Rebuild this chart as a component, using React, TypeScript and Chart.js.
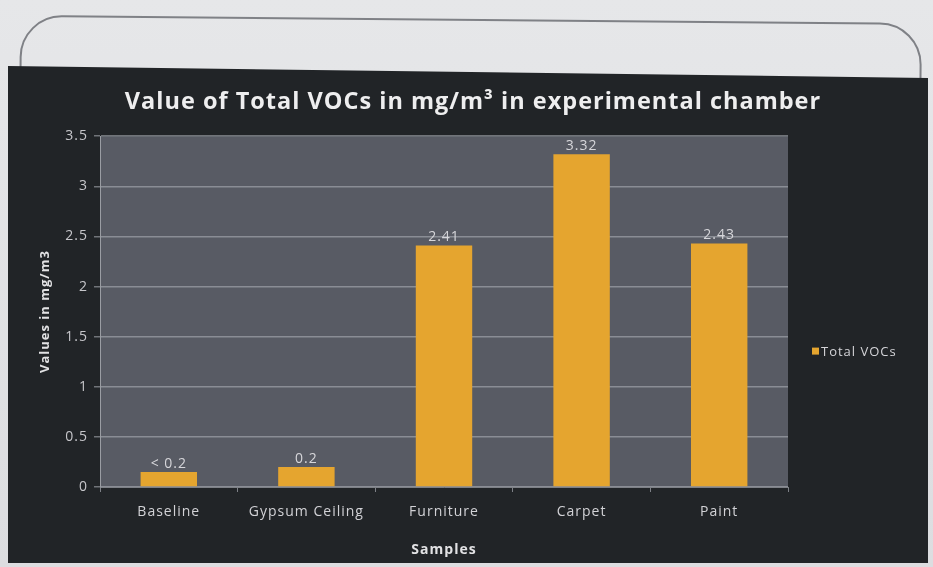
import React, { useEffect, useRef } from "react";
import { Chart, registerables } from "chart.js";

Chart.register(...registerables);

const categories = ["Baseline", "Gypsum Ceiling", "Furniture", "Carpet", "Paint"];
const totalVOCs = [0.15, 0.2, 2.41, 3.32, 2.43];
const valueLabels = ["< 0.2", "0.2", "2.41", "3.32", "2.43"];
const yTicks = [0, 0.5, 1, 1.5, 2, 2.5, 3, 3.5];
const seriesName = "Total VOCs";
const titleText = "Value of Total VOCs in mg/m\u00B3 in experimental chamber";
const yTitle = "Values in mg/m3";
const xTitle = "Samples";

const FONT = "'Open Sans', 'Noto Sans', sans-serif";
const BAR = "#e5a52f";
const SPACING = "1px";

export default function App() {
  const ref = useRef<HTMLCanvasElement | null>(null);

  useEffect(() => {
    const canvas = ref.current;
    if (!canvas) return;

    const spacingPlugin = {
      id: "spacing",
      beforeLayout(chart: any) {
        chart.ctx.letterSpacing = SPACING;
      },
      beforeDraw(chart: any) {
        chart.ctx.letterSpacing = SPACING;
      },
    };

    const plotBg = {
      id: "plotBg",
      beforeDraw(chart: any) {
        const { ctx, chartArea: a } = chart;
        ctx.save();
        ctx.fillStyle = "#585b64";
        ctx.fillRect(a.left, a.top, a.right - a.left, a.bottom - a.top);
        ctx.restore();
      },
    };

    const labelsPlugin = {
      id: "valueLabels",
      afterDatasetsDraw(chart: any) {
        const { ctx } = chart;
        const meta = chart.getDatasetMeta(0);
        ctx.save();
        ctx.font = `14px ${FONT}`;
        ctx.fillStyle = "#d6d6da";
        ctx.textAlign = "center";
        ctx.textBaseline = "bottom";
        meta.data.forEach((bar: any, i: number) => {
          ctx.fillText(valueLabels[i], bar.x, bar.y - 1);
        });
        ctx.restore();
      },
    };

    const legendPlugin = {
      id: "customLegend",
      afterDraw(chart: any) {
        const { ctx, chartArea: a } = chart;
        const x = a.right + 24;
        const y = (a.top + a.bottom) / 2 + 41;
        ctx.save();
        ctx.fillStyle = chart.data.datasets[0].backgroundColor;
        ctx.fillRect(x, y - 5, 7, 7);
        ctx.font = `13px ${FONT}`;
        ctx.fillStyle = "#d4d4d8";
        ctx.textBaseline = "middle";
        ctx.textAlign = "left";
        ctx.fillText(chart.data.datasets[0].label, x + 9, y);
        ctx.restore();
      },
    };

    const chart = new Chart(canvas, {
      type: "bar",
      data: {
        labels: categories,
        datasets: [
          {
            label: seriesName,
            data: totalVOCs,
            backgroundColor: BAR,
            borderWidth: 0,
            barPercentage: 0.41,
            categoryPercentage: 1,
            yAxisID: "y",
          },
        ],
      },
      options: {
        responsive: false,
        animation: false,
        layout: { padding: { left: 10, right: 0, top: 0, bottom: 0 } },
        plugins: {
          legend: { display: false },
          tooltip: { enabled: false },
          title: {
            display: true,
            text: titleText,
            color: "#eeeeef",
            font: { family: FONT, size: 23.5, weight: "bold" },
            padding: { top: 20, bottom: 20 },
          },
        },
        scales: {
          x: {
            grid: {
              display: true,
              drawOnChartArea: false,
              color: "#7d8086",
              tickLength: 5,
              offset: true,
            },
            border: { display: true, color: "#7d8086", width: 1 },
            ticks: {
              color: "#d2d2d6",
              font: { family: FONT, size: 14 },
              padding: 12,
            },
            title: {
              display: true,
              text: xTitle,
              color: "#e2e2e4",
              font: { family: FONT, size: 14, weight: "bold" },
              padding: { top: 0, bottom: 5 },
            },
            afterFit(scale: any) {
              scale.height = 76;
            },
          },
          y: {
            position: "left",
            min: 0,
            max: 3.5,
            afterBuildTicks(scale: any) {
              scale.ticks = yTicks.map((v) => ({ value: v }));
            },
            ticks: {
              color: "#c6c6ca",
              font: { family: FONT, size: 14 },
              padding: 6,
              callback: (v: any) => String(v),
            },
            grid: {
              color: "rgba(180,182,190,0.55)",
              lineWidth: 1.5,
              tickLength: 6,
            },
            border: { display: true, color: "#9a9da3", width: 1 },
            title: {
              display: true,
              text: yTitle,
              color: "#e2e2e4",
              font: { family: FONT, size: 13, weight: "bold" },
              padding: { top: 19, bottom: 0 },
            },
            afterFit(scale: any) {
              scale.width = 82;
            },
          },
          legendSpace: {
            type: "linear",
            position: "right",
            display: true,
            grid: { display: false },
            border: { display: false },
            ticks: { display: false },
            afterFit(scale: any) {
              scale.width = 140;
            },
          },
        },
      },
      plugins: [spacingPlugin, plotBg, labelsPlugin, legendPlugin],
    });

    return () => chart.destroy();
  }, []);

  return (
    <div
      style={{
        position: "fixed",
        inset: 0,
        background: "linear-gradient(180deg, #e6e7e9 0%, #dcdde0 100%)",
        overflow: "hidden",
      }}
    >
      <div
        style={{
          position: "absolute",
          left: 20,
          top: 15,
          width: 898,
          height: 200,
          border: "2px solid #7f8186",
          borderRadius: 42,
          transform: "rotate(0.5deg)",
          transformOrigin: "left top",
        }}
      />
      <div
        style={{
          position: "absolute",
          left: 8,
          top: 66,
          width: 920,
          height: 497,
          background: "#212427",
          clipPath: "polygon(0 0, 100% 12px, 100% 100%, 0 100%)",
        }}
      >
        <canvas
          ref={ref}
          width={920}
          height={495}
          style={{ position: "absolute", left: 0, top: 2, width: 920, height: 495 }}
        />
      </div>
    </div>
  );
}
